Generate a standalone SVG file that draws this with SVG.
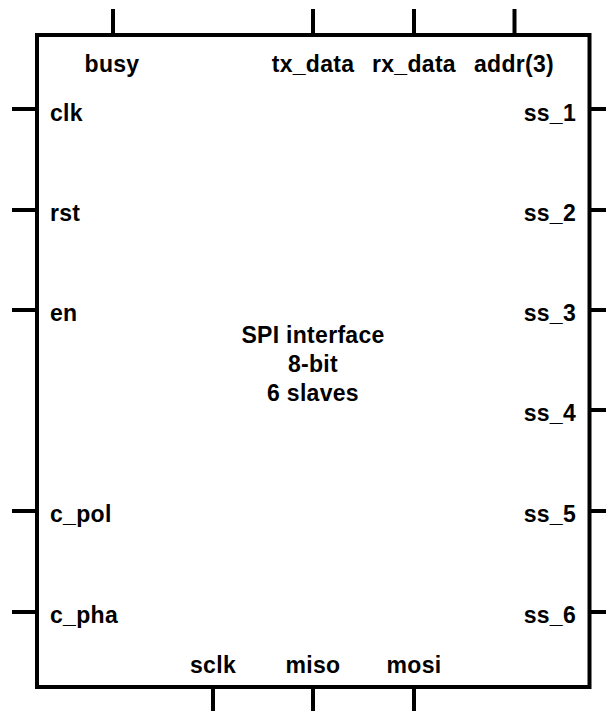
<svg xmlns="http://www.w3.org/2000/svg" width="606" height="711" viewBox="0 0 606 711">
  <style>
    .body { fill: #ffffff; stroke: #000000; stroke-width: 4; }
    .pin { stroke: #000000; stroke-width: 4; fill: none; }
    text { font-family: "Liberation Sans", Arial, sans-serif; font-weight: bold; font-size: 23px; letter-spacing: 0.3px; fill: #000000; }
    .l { text-anchor: start; }
    .r { text-anchor: end; }
    .c { text-anchor: middle; }
  </style>
  <rect width="606" height="711" fill="#ffffff"/>

  <!-- pin stubs -->
  <g id="connectors">
    <!-- top -->
    <line class="pin" x1="113" y1="9" x2="113" y2="35"/>
    <line class="pin" x1="313" y1="9" x2="313" y2="35"/>
    <line class="pin" x1="414" y1="9" x2="414" y2="35"/>
    <line class="pin" x1="514.5" y1="9" x2="514.5" y2="35"/>
    <!-- left -->
    <line class="pin" x1="12" y1="109" x2="37" y2="109"/>
    <line class="pin" x1="12" y1="210" x2="37" y2="210"/>
    <line class="pin" x1="12" y1="310" x2="37" y2="310"/>
    <line class="pin" x1="12" y1="511" x2="37" y2="511"/>
    <line class="pin" x1="12" y1="612" x2="37" y2="612"/>
    <!-- right -->
    <line class="pin" x1="589.5" y1="109" x2="606" y2="109"/>
    <line class="pin" x1="589.5" y1="210" x2="606" y2="210"/>
    <line class="pin" x1="589.5" y1="310" x2="606" y2="310"/>
    <line class="pin" x1="589.5" y1="410" x2="606" y2="410"/>
    <line class="pin" x1="589.5" y1="511" x2="606" y2="511"/>
    <line class="pin" x1="589.5" y1="612" x2="606" y2="612"/>
    <!-- bottom -->
    <line class="pin" x1="213" y1="687" x2="213" y2="711"/>
    <line class="pin" x1="313" y1="687" x2="313" y2="711"/>
    <line class="pin" x1="414" y1="687" x2="414" y2="711"/>
  </g>

  <g id="spi_block">
    <rect class="body" x="37" y="35" width="552.5" height="652"/>
    <text class="c" x="313" y="342.5">SPI interface</text>
    <text class="c" x="313" y="371.5">8-bit</text>
    <text class="c" x="313" y="400.5">6 slaves</text>

    <text class="c" x="112" y="72">busy</text>
    <text class="c" x="313" y="72">tx_data</text>
    <text class="c" x="414" y="72">rx_data</text>
    <text class="c" x="514" y="72">addr(3)</text>

    <text class="l" x="50" y="120.5">clk</text>
    <text class="l" x="50" y="221">rst</text>
    <text class="l" x="50" y="321">en</text>
    <text class="l" x="50" y="522">c_pol</text>
    <text class="l" x="50" y="623">c_pha</text>

    <text class="r" x="576" y="120.5">ss_1</text>
    <text class="r" x="576" y="221">ss_2</text>
    <text class="r" x="576" y="321">ss_3</text>
    <text class="r" x="576" y="421">ss_4</text>
    <text class="r" x="576" y="522">ss_5</text>
    <text class="r" x="576" y="623">ss_6</text>

    <text class="c" x="213" y="673">sclk</text>
    <text class="c" x="313" y="673">miso</text>
    <text class="c" x="414" y="673">mosi</text>
  </g>
</svg>
